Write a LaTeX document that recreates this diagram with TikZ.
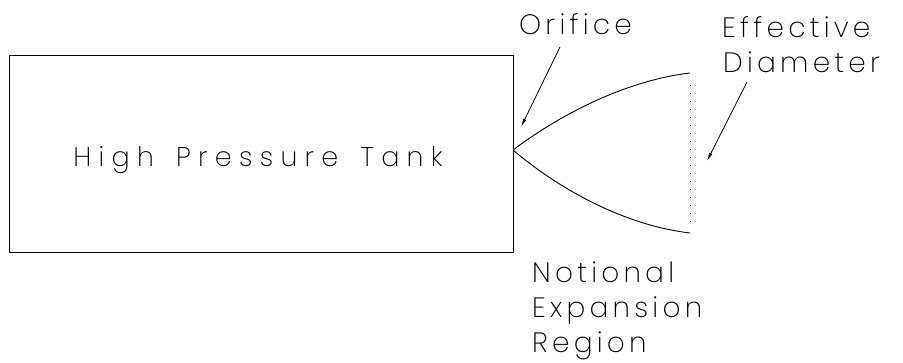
\documentclass[tikz,border=0pt]{standalone}
\usepackage{fontspec}
\newfontfamily\cadfont{Poppins ExtraLight}[LetterSpace=15]
\newfontfamily\tankfont{Poppins ExtraLight}[LetterSpace=27,WordSpace=1.5]
\usetikzlibrary{arrows.meta}
\begin{document}
\begin{tikzpicture}[x=1pt,y=-1pt,
  line/.style={line width=0.9pt},
  lbl/.style={font=\cadfont\fontsize{28}{30}\selectfont, inner sep=0pt, anchor=base west},
  ptr/.style={line width=0.8pt, -{Latex[length=8.5pt,width=3.5pt]}}]
\useasboundingbox (0,0) rectangle (903,362);
\node[draw, line, minimum width=504pt, minimum height=197pt, inner sep=0pt] (tank) at (261,153.5) {};
\node[font=\tankfont\fontsize{27}{29}\selectfont, inner sep=0pt, anchor=base] (tanklbl) at (258,166) {High Pressure Tank};
\coordinate (orf) at (513,150);
\coordinate (up) at (690,73);
\coordinate (lo) at (690,233);
\draw[line] (orf) .. controls (565,111) and (630,80) .. (up);
\draw[line] (orf) .. controls (565,194) and (630,226) .. (lo);
\coordinate (dtop) at (690,85);
\coordinate (dbot) at (690,224);
\draw[line width=0.8pt, dash pattern=on 0.8pt off 7.2pt] (dtop) -- (dbot);
\node[lbl] (orifice) at (519,34) {Orifice};
\node[lbl] (eff) at (722,37) {Effective};
\node[lbl] (diam) at (723,72) {Diameter};
\node[lbl] (notional) at (532,282) {Notional};
\node[lbl] (expansion) at (532,317) {Expansion};
\node[lbl] (region) at (532,352) {Region};
\coordinate (oa) at (560,47);
\coordinate (oat) at (521,127);
\draw[ptr] (oa) -- (oat);
\coordinate (ea) at (747,82);
\coordinate (eat) at (707,161);
\draw[ptr] (ea) -- (eat);
\end{tikzpicture}
\end{document}
